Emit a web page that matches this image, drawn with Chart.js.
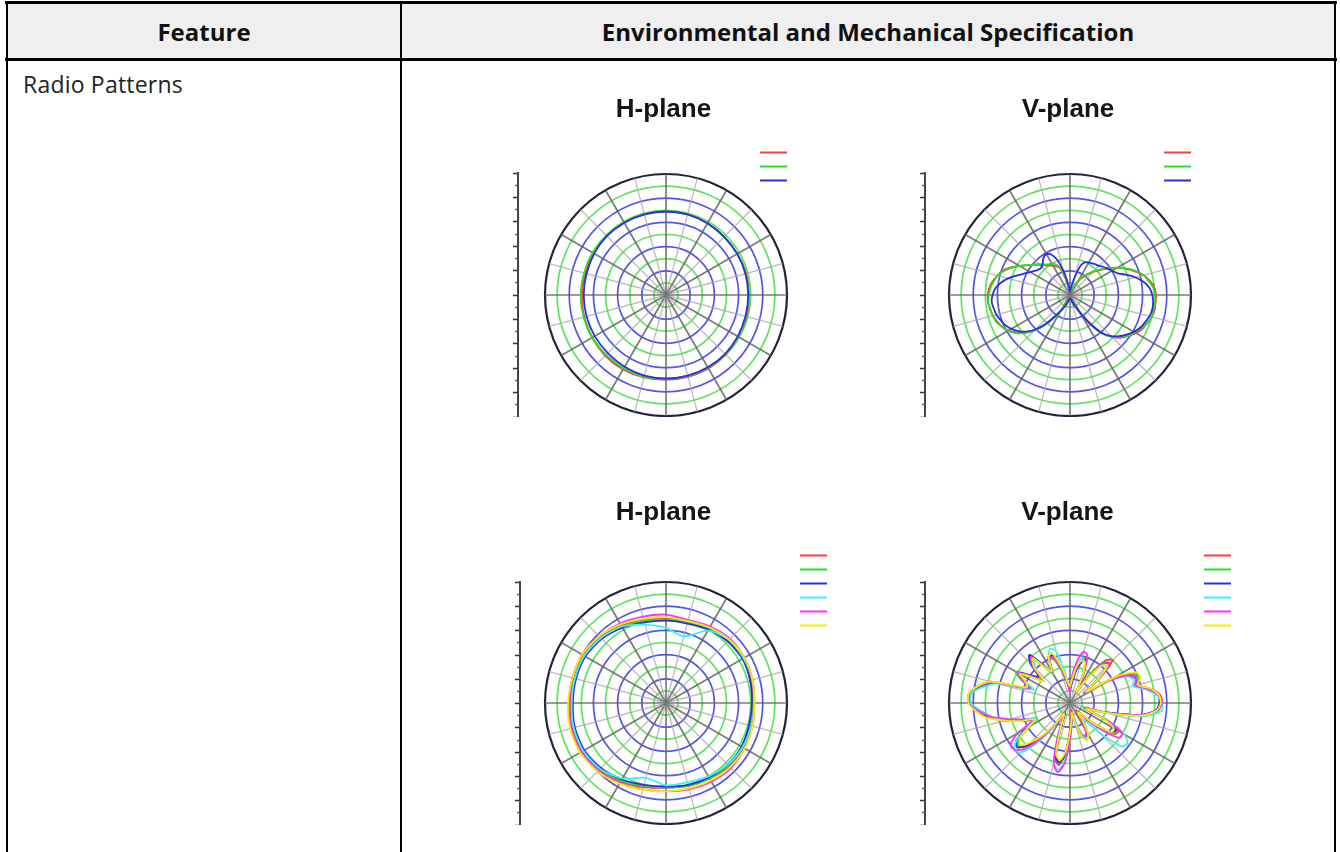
<!DOCTYPE html>
<html>
<head>
<meta charset="utf-8">
<title>Radio Patterns</title>
<script src="https://cdn.jsdelivr.net/npm/chart.js@4.4.0/dist/chart.umd.min.js"></script>
<style>
  html, body { margin: 0; padding: 0; background: #fff; }
  body { width: 1340px; height: 852px; position: relative; overflow: hidden; font-family: 'Open Sans', sans-serif; color: #222; }
  .rule { position: absolute; background: #000; }
  .head { position: absolute; top: 4px; height: 54px; background: #efefef; display: flex; align-items: center; justify-content: center; font-weight: bold; font-size: 24px; color: #111; }
  .panel { position: absolute; }
</style>
</head>
<body>

<div class="head" style="left:8px; width:392px;">Feature</div>
<div class="head" style="left:402px; width:932px;">Environmental and Mechanical Specification</div>
<div class="rule" style="left:5px; top:1px; width:1332px; height:3px;"></div>
<div class="rule" style="left:5px; top:58px; width:1332px; height:3px;"></div>
<div class="rule" style="left:6px; top:1px; width:2px; height:851px;"></div>
<div class="rule" style="left:400px; top:1px; width:2px; height:851px;"></div>
<div class="rule" style="left:1334px; top:1px; width:2px; height:851px;"></div>
<div style="position:absolute; left:23px; top:73px; font-size:23px; line-height:23px; letter-spacing:0.2px; color:#222;">Radio Patterns</div>

<div class="panel" style="left:513px; top:80px; width:301px; height:337px;"><canvas id="hTop"></canvas></div>
<div class="panel" style="left:920px; top:80px; width:296px; height:337px;"><canvas id="vTop"></canvas></div>
<div class="panel" style="left:515px; top:484px; width:327px; height:341px;"><canvas id="hBottom"></canvas></div>
<div class="panel" style="left:920px; top:484px; width:325px; height:341px;"><canvas id="vBottom"></canvas></div>

<script>
// angles (deg, clockwise from top)
const ANGLES_15 = [0, 15, 30, 45, 60, 75, 90, 105, 120, 135, 150, 165, 180, 195, 210, 225, 240, 255, 270, 285, 300, 315, 330, 345];
const ANGLES_5 = [0, 5, 10, 15, 20, 25, 30, 35, 40, 45, 50, 55, 60, 65, 70, 75, 80, 85, 90, 95,
    100, 105, 110, 115, 120, 125, 130, 135, 140, 145, 150, 155, 160, 165, 170, 175, 180, 185, 190, 195,
    200, 205, 210, 215, 220, 225, 230, 235, 240, 245, 250, 255, 260, 265, 270, 275, 280, 285, 290, 295,
    300, 305, 310, 315, 320, 325, 330, 335, 340, 345, 350, 355];

const TRACE_NAMES = ['Trace 1', 'Trace 2', 'Trace 3', 'Trace 4', 'Trace 5', 'Trace 6'];
const TRACE_COLORS = ['rgb(255,60,60)', 'rgb(40,225,40)', 'rgb(45,45,230)', 'rgb(60,240,255)', 'rgb(255,50,255)', 'rgb(250,235,0)'];

// radial scale 0..100 (relative level), left bar 0..20
const RADIAL_MIN = 0;
const RADIAL_MAX = 100;
const RADIAL_STEP = 10;
const BAR_MIN = 0;
const BAR_MAX = 20;

// top H-plane, 3 traces
const hTopRed = [69, 69, 68.5, 68, 68, 68.5, 68.5, 69, 69, 69.5, 70, 70, 70, 70.5, 71, 71, 70.5, 70, 69.5, 69, 69, 69, 69, 69];
const hTopGreen = [69.5, 69, 68.5, 68, 68, 68, 68, 68.5, 69, 69, 69.5, 69.5, 69.5, 70, 70, 70, 70.5, 70.5, 70.5, 70, 70, 69.5, 69.5, 69.5];
const hTopBlue = [69, 69, 68.5, 68, 68, 68, 68, 68, 68.5, 69, 69, 69, 69, 69, 68.5, 68, 68, 68, 68, 68, 68.5, 69, 69, 69];

// top V-plane, 3 traces
const vTopRed = [3, 3, 3, 4, 5, 8, 12, 17, 22, 27, 32, 38, 45, 51, 57, 63, 67, 70, 71, 71,
    71, 70, 68, 66, 63, 59, 55, 49, 41, 28, 16, 10, 7, 5, 3, 3,
    3, 3, 3, 4, 6, 10, 15, 22, 32, 41, 48, 54, 59, 62, 64, 66, 67, 68, 68, 67,
    65, 62, 59, 54, 48, 43, 39, 35, 32, 30, 28, 26, 23, 14, 7, 3];
const vTopGreen = [3, 3, 3, 4, 5, 8, 13, 18, 23, 28, 33, 39, 45, 52, 58, 63, 66, 69, 70, 71,
    70, 70, 68, 65, 62, 59, 54, 49, 42, 30, 17, 10, 7, 5, 3, 3,
    3, 3, 4, 5, 6, 10, 16, 23, 33, 42, 49, 55, 59, 62, 65, 66, 67, 68, 67, 66,
    64, 62, 58, 53, 48, 43, 39, 36, 33, 31, 30, 28, 24, 15, 7, 3];
const vTopBlue = [3, 4, 8, 16, 26, 30, 31, 32, 33, 34, 36, 38, 40, 43, 49, 56, 62, 66, 68, 69,
    69, 68, 66, 64, 61, 57, 53, 48, 41, 29, 18, 11, 7, 5, 3, 3,
    3, 3, 4, 5, 7, 11, 15, 21, 31, 40, 47, 52, 56, 59, 61, 63, 64, 65, 64, 62,
    58, 53, 47, 42, 38, 35, 33, 33, 35, 38, 39, 37, 31, 20, 10, 5];

// bottom H-plane, 6 traces
const hBotRed = [70, 70, 72, 74, 74, 73, 72, 73, 74, 74, 72, 71, 70, 72, 75, 78, 80, 80, 79, 79, 79, 77, 74, 71];
const hBotGreen = [69, 69, 71, 73, 73, 72, 71, 72, 73, 73, 72, 71, 70, 71, 74, 77, 79, 79, 78, 78, 78, 76, 73, 70];
const hBotBlue = [68, 68, 70, 72, 73, 72, 71, 71, 72, 72, 71, 70, 69, 70, 73, 76, 78, 78, 77, 77, 77, 75, 72, 69];
const hBotCyan = [62, 57, 69, 74, 74, 74, 73, 73, 73, 72, 70, 68, 68, 64, 72, 77, 79, 79, 78, 78, 78, 76, 73, 67];
const hBotMagenta = [73, 71, 73, 75, 75, 74, 73, 74, 75, 76, 75, 74, 73, 74, 76, 79, 81, 81, 80, 80, 80, 78, 76, 74];
const hBotYellow = [71, 70, 72, 74, 75, 74, 73, 74, 75, 75, 74, 73, 73, 74, 77, 80, 82, 82, 81, 80, 80, 78, 75, 72];

// bottom V-plane, 6 traces
const vBotRed = [10, 18, 28, 36, 40, 26, 10, 28, 46, 50, 32, 14, 40, 56, 60, 58, 68, 75, 76, 73,
    60, 30, 12, 32, 46, 45, 30, 14, 8, 16, 26, 30, 28, 16, 6, 12, 22, 40, 52, 48,
    26, 12, 8, 20, 36, 48, 56, 52, 40, 30, 40, 52, 66, 74, 83, 84, 78, 68, 36, 42,
    50, 38, 30, 44, 50, 36, 30, 42, 40, 30, 22, 14];
const vBotGreen = [12, 20, 30, 38, 38, 24, 12, 30, 44, 46, 30, 16, 42, 58, 60, 56, 66, 74, 75, 72,
    58, 28, 12, 30, 44, 44, 30, 16, 10, 18, 28, 32, 26, 14, 8, 14, 26, 44, 50, 44,
    24, 12, 10, 22, 38, 50, 56, 50, 38, 32, 42, 54, 68, 76, 84, 84, 76, 64, 34, 44,
    52, 40, 32, 46, 52, 38, 28, 40, 38, 28, 20, 14];
const vBotBlue = [12, 16, 26, 34, 38, 24, 12, 26, 42, 46, 30, 14, 38, 54, 58, 56, 66, 73, 74, 71,
    58, 30, 14, 32, 44, 42, 28, 14, 10, 18, 28, 32, 30, 18, 8, 14, 24, 42, 50, 46,
    24, 10, 10, 22, 38, 50, 57, 54, 42, 34, 44, 56, 68, 76, 82, 83, 76, 64, 34, 42,
    50, 40, 34, 46, 52, 38, 30, 42, 42, 32, 22, 14];
const vBotCyan = [14, 20, 30, 38, 36, 22, 12, 26, 40, 44, 28, 14, 38, 52, 56, 54, 64, 72, 76, 76,
    62, 34, 18, 36, 52, 58, 56, 36, 18, 22, 30, 32, 26, 14, 10, 18, 30, 48, 56, 52,
    30, 14, 12, 26, 44, 58, 60, 54, 40, 30, 40, 52, 66, 74, 82, 82, 74, 62, 32, 40,
    48, 36, 28, 40, 46, 36, 32, 42, 48, 44, 28, 16];
const vBotMagenta = [10, 24, 36, 44, 42, 26, 10, 26, 42, 46, 30, 14, 36, 54, 58, 56, 66, 74, 76, 72,
    58, 30, 14, 34, 50, 50, 36, 18, 10, 16, 26, 30, 28, 18, 8, 16, 30, 50, 58, 52,
    30, 14, 10, 22, 40, 54, 60, 60, 50, 34, 40, 52, 66, 76, 84, 84, 78, 66, 36, 42,
    50, 38, 30, 44, 50, 36, 30, 40, 40, 30, 22, 14];
const vBotYellow = [14, 20, 30, 36, 36, 24, 10, 24, 40, 44, 30, 16, 44, 60, 62, 58, 68, 74, 75, 72,
    60, 32, 14, 30, 42, 42, 28, 14, 10, 20, 30, 34, 30, 18, 8, 14, 24, 40, 48, 44,
    24, 12, 10, 20, 34, 46, 54, 50, 40, 32, 44, 56, 70, 78, 84, 84, 78, 68, 38, 40,
    48, 36, 28, 42, 48, 36, 30, 42, 44, 34, 24, 16];

// little colour key (no text) top right of each plot
const traceKey = {
    id: 'traceKey',
    afterDraw(chart, args, o) {
        const ctx = chart.ctx;
        const r = chart.scales.r;
        const top = chart.chartArea.top;
        ctx.save();
        ctx.lineWidth = 2;
        chart.data.datasets.forEach(function (ds, i) {
            const y = Math.round(top + o.dy + i * o.step) + 0.5;
            ctx.strokeStyle = ds.borderColor;
            ctx.beginPath();
            ctx.moveTo(r.xCenter + o.x0, y);
            ctx.lineTo(r.xCenter + o.x1, y);
            ctx.stroke();
        });
        ctx.restore();
    }
};

function spokeColor(index, count) {
    const a = index * 360 / count;
    if (a % 30 === 0) return 'rgba(100,100,100,0.85)';
    if (a % 15 === 0) return 'rgba(165,165,165,0.75)';
    return 'rgba(0,0,0,0)';
}

function spokeWidth(index, count) {
    const a = index * 360 / count;
    if (a % 30 === 0) return 1.7;
    if (a % 15 === 0) return 1.3;
    return 0;
}

function polarPlot(id, title, labels, traces, titlePad, padRight, key) {
    const count = labels.length;
    return new Chart(document.getElementById(id), {
        type: 'radar',
        data: {
            labels: labels,
            datasets: traces.map(function (t, i) {
                return {
                    label: TRACE_NAMES[i],
                    data: t,
                    borderColor: TRACE_COLORS[i],
                    borderWidth: 1.8,
                    pointRadius: 0,
                    fill: false,
                    tension: 0.25,
                    order: traces.length - i
                };
            })
        },
        options: {
            responsive: true,
            maintainAspectRatio: false,
            animation: false,
            events: [],
            layout: { padding: { left: 0, top: 0, bottom: 0, right: padRight } },
            scales: {
                r: {
                    min: RADIAL_MIN,
                    max: RADIAL_MAX,
                    ticks: { display: false, stepSize: RADIAL_STEP },
                    pointLabels: { display: false },
                    grid: {
                        circular: true,
                        color: (ctx) => ctx.index === 10 ? 'rgb(35,35,60)' : (ctx.index % 2 ? 'rgb(95,228,95)' : 'rgb(85,85,228)'),
                        lineWidth: (ctx) => ctx.index === 10 ? 2.2 : 1.7
                    },
                    angleLines: {
                        color: (ctx) => spokeColor(ctx.index, count),
                        lineWidth: (ctx) => spokeWidth(ctx.index, count)
                    }
                },
                y: {
                    type: 'linear',
                    position: 'left',
                    min: BAR_MIN,
                    max: BAR_MAX,
                    ticks: { display: false, stepSize: 1 },
                    grid: {
                        drawOnChartArea: false,
                        drawTicks: true,
                        tickLength: 5,
                        tickColor: (ctx) => ctx.index % 2 ? '#666' : '#333',
                        tickWidth: 1.5,
                        tickBorderDash: (ctx) => ctx.index % 2 ? [0, 2, 3, 10] : []
                    },
                    border: { display: true, color: '#444', width: 2 }
                }
            },
            plugins: {
                legend: { display: false },
                tooltip: { enabled: false },
                title: {
                    display: true,
                    text: title,
                    color: '#151515',
                    font: { family: "'Liberation Sans', Arial, sans-serif", size: 26, weight: 'bold' },
                    padding: titlePad
                },
                traceKey: key
            }
        },
        plugins: [traceKey]
    });
}

polarPlot('hTop', 'H-plane', ANGLES_15, [hTopRed, hTopGreen, hTopBlue],
    { top: 14, bottom: 48 }, 0, { x0: 94, x1: 121, dy: -21, step: 14 });
polarPlot('vTop', 'V-plane', ANGLES_5, [vTopRed, vTopGreen, vTopBlue],
    { top: 14, bottom: 48 }, 0, { x0: 94, x1: 121, dy: -21, step: 14 });
polarPlot('hBottom', 'H-plane', ANGLES_15, [hBotRed, hBotGreen, hBotBlue, hBotCyan, hBotMagenta, hBotYellow],
    { top: 13, bottom: 54 }, 30, { x0: 134, x1: 161, dy: -27, step: 14 });
polarPlot('vBottom', 'V-plane', ANGLES_5, [vBotRed, vBotGreen, vBotBlue, vBotCyan, vBotMagenta, vBotYellow],
    { top: 13, bottom: 54 }, 30, { x0: 134, x1: 161, dy: -27, step: 14 });
</script>
</body>
</html>
